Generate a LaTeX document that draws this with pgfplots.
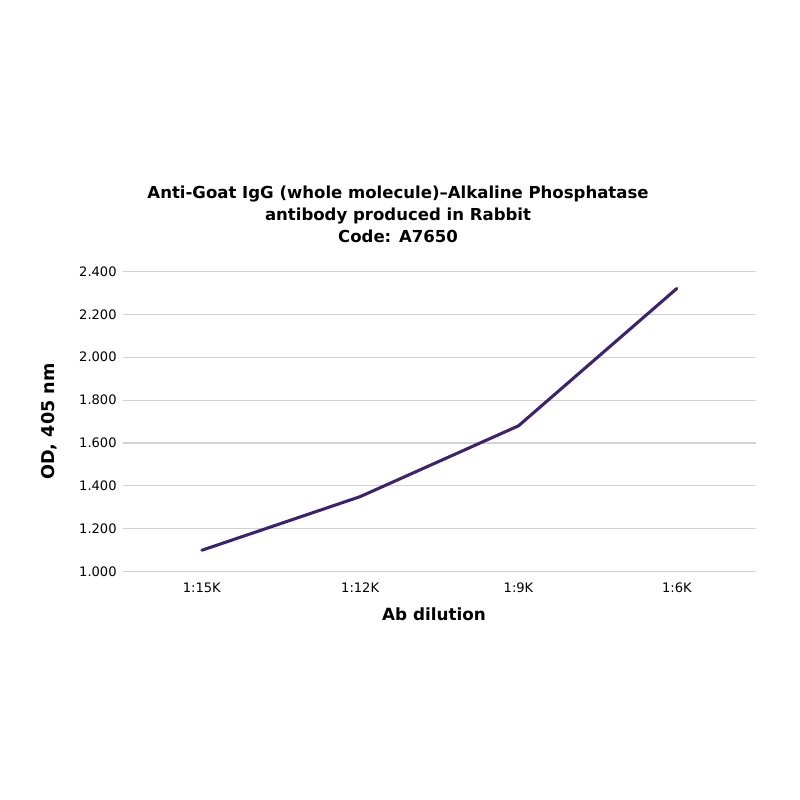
\documentclass[border=0pt]{standalone}
\usepackage{fontspec}
\setmainfont{DejaVu Sans}
\usepackage{pgfplots}
\pgfplotsset{compat=1.18}
\definecolor{odline}{RGB}{62,34,110}
\definecolor{gridgray}{RGB}{210,210,210}
\begin{document}
\begin{tikzpicture}[x=0.75pt,y=0.75pt]
% page of 800x800 px, 1 px = 0.75pt
\path[use as bounding box,fill=white] (0,0) rectangle (800,800);
\node[font=\bfseries\fontsize{12.4}{16.5}\selectfont,align=center] at (398,586)
  {Anti-Goat IgG (whole molecule)–Alkaline Phosphatase\\antibody produced in Rabbit\\Code: A7650};
\begin{axis}[
    at={(92.0pt,171.2pt)}, anchor=south west,
    scale only axis,
    width=475pt, height=225.3pt,
    xmin=-0.5, xmax=3.5,
    ymin=1, ymax=2.4,
    xtick=data,
    xticklabels={1:15K,1:12K,1:9K,1:6K},
    ytick={1,1.2,...,2.4},
    /pgf/number format/.cd, fixed, fixed zerofill, precision=3, assume math mode=true,
    /pgfplots/.cd,
    axis line style={draw=none},
    major tick length=0pt,
    ymajorgrids,
    grid style={gridgray, line width=0.8pt},
    tick label style={font=\fontsize{9.8}{12}\selectfont},
    yticklabel style={xshift=-1pt},
    xticklabel style={yshift=-5pt},
    xlabel={Ab dilution},
    ylabel={OD, 405 nm},
    label style={font=\bfseries\fontsize{12.6}{14}\selectfont},
    xlabel style={yshift=-4pt, xshift=-4pt},
    ylabel style={yshift=10pt, font=\bfseries\fontsize{13.2}{14}\selectfont},
]
\addplot[odline, line width=2.3pt, line join=round, line cap=round] coordinates {
    (0, 1.10)
    (1, 1.35)
    (2, 1.68)
    (3, 2.32)
};
\end{axis}
\end{tikzpicture}
\end{document}
